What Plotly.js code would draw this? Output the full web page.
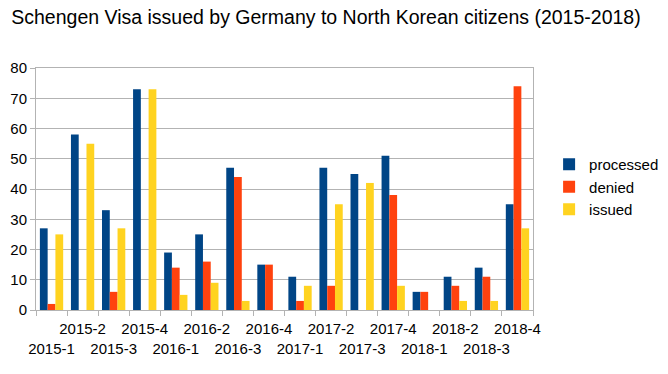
<!DOCTYPE html>
<html><head><meta charset="utf-8">
<script src="https://cdn.plot.ly/plotly-3.0.1.min.js"></script>
<style>html,body{margin:0;padding:0;background:#fff}</style>
</head><body><div id="chart" style="width:668px;height:374px"></div>
<script>
const categories = ["2015-1","2015-2","2015-3","2015-4","2016-1","2016-2","2016-3","2016-4","2017-1","2017-2","2017-3","2017-4","2018-1","2018-2","2018-3","2018-4"];
const processed = [27,58,33,73,19,25,47,15,11,47,45,51,6,11,14,35];
const denied    = [2,0,6,0,14,16,44,15,3,8,0,38,6,8,11,74];
const issued    = [25,55,27,73,5,9,3,0,8,35,42,8,0,3,3,27];
const yTicks = [0,10,20,30,40,50,60,70,80];

const tickText = categories.map((c,i)=> i%2===0 ? "<br>"+c : c);
const font = {family:"Liberation Sans, Arial, sans-serif", color:"#000"};
function tr(name, y, color){
  return {type:"bar", name:name, legendgroup:name, x:categories, y:y, marker:{color:color}};
}
const data = [tr("processed",processed,"#004586"), tr("denied",denied,"#ff420e"), tr("issued",issued,"#ffd320")];
const layout = {
  width:668, height:374,
  margin:{l:36, r:135, t:68, b:64},
  paper_bgcolor:"#fff", plot_bgcolor:"#fff",
  font:Object.assign({size:15}, font),
  title:{text:"Schengen Visa issued by Germany to North Korean citizens (2015-2018)", font:Object.assign({size:19.5}, font), x:0.488, xanchor:"center", y:0.955, yanchor:"middle"},
  bargap:0.25, bargroupgap:0,
  xaxis:{type:"category", tickvals:categories, ticktext:tickText, tickangle:0, tickson:"boundaries", ticks:"outside", ticklen:5, tickcolor:"#b3b3b3",
         ticklabelstandoff:5,
         showline:true, linecolor:"#b3b3b3", mirror:true, showgrid:false, tickfont:Object.assign({size:15}, font), fixedrange:true, automargin:false},
  yaxis:{range:[0,80], tickvals:yTicks, ticks:"outside", ticklen:5, tickcolor:"#b3b3b3", showline:true, linecolor:"#b3b3b3", mirror:true,
         gridcolor:"#b3b3b3", zeroline:false, tickfont:Object.assign({size:15}, font), automargin:false},
  legend:{xref:"container", yref:"container", x:0.822, xanchor:"left", y:0.5, yanchor:"middle", font:Object.assign({size:15}, font), itemwidth:30, tracegroupgap:0},
  showlegend:true
};
Plotly.newPlot("chart", data, layout, {staticPlot:true});
</script></body></html>
